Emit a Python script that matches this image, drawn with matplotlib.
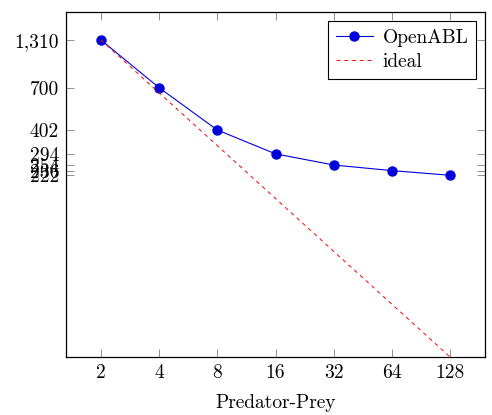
import matplotlib
matplotlib.use("Agg")
import matplotlib.pyplot as plt

plt.rcParams['font.family'] = ['cmr10', 'DejaVu Serif']
plt.rcParams['axes.formatter.use_mathtext'] = True
plt.rcParams['mathtext.fontset'] = 'cm'

cores = [2, 4, 8, 16, 32, 64, 128]
openabl = [1310, 700, 402, 294, 254, 236, 222]
ideal = [openabl[0] * cores[0] / c for c in cores]
ytick_labels = ["1,310", "700", "402", "294", "254", "236", "222"]

fig = plt.figure(figsize=(4.92, 4.15), dpi=100)
ax = fig.add_axes([66 / 492, 1 - 357 / 415, (485 - 66) / 492, (357 - 12) / 415])

ax.plot(cores, openabl, color='#0000dd', linewidth=0.8, marker='o', markersize=6.5,
        label='OpenABL')
ax.plot(cores, ideal, color='red', linewidth=0.7, linestyle=(0, (4, 4)),
        label='ideal')

ax.set_xscale('log', base=2)
ax.set_yscale('log')
ax.set_xlim(2 / 2 ** 0.6, 128 * 2 ** 0.6)
ax.set_ylim(ideal[-1], 1890)

ax.set_xticks(cores)
ax.set_xticklabels([str(c) for c in cores])
ax.set_yticks(openabl)
ax.set_yticklabels(ytick_labels)
ax.minorticks_off()

ax.tick_params(direction='in', top=True, right=True, length=6, width=0.7,
               color='#909090', labelsize=14, pad=5)
for sp in ax.spines.values():
    sp.set_linewidth(0.9)

ax.set_xlabel('Predator-Prey', fontsize=14, labelpad=9)

leg = ax.legend(loc='upper right', fontsize=14, frameon=True, fancybox=False,
                edgecolor='black', framealpha=1, borderaxespad=0.45,
                handlelength=1.9, handletextpad=0.5, borderpad=0.4,
                labelspacing=0.35)
leg.get_frame().set_linewidth(0.8)

fig.savefig('out.png', dpi=100)
